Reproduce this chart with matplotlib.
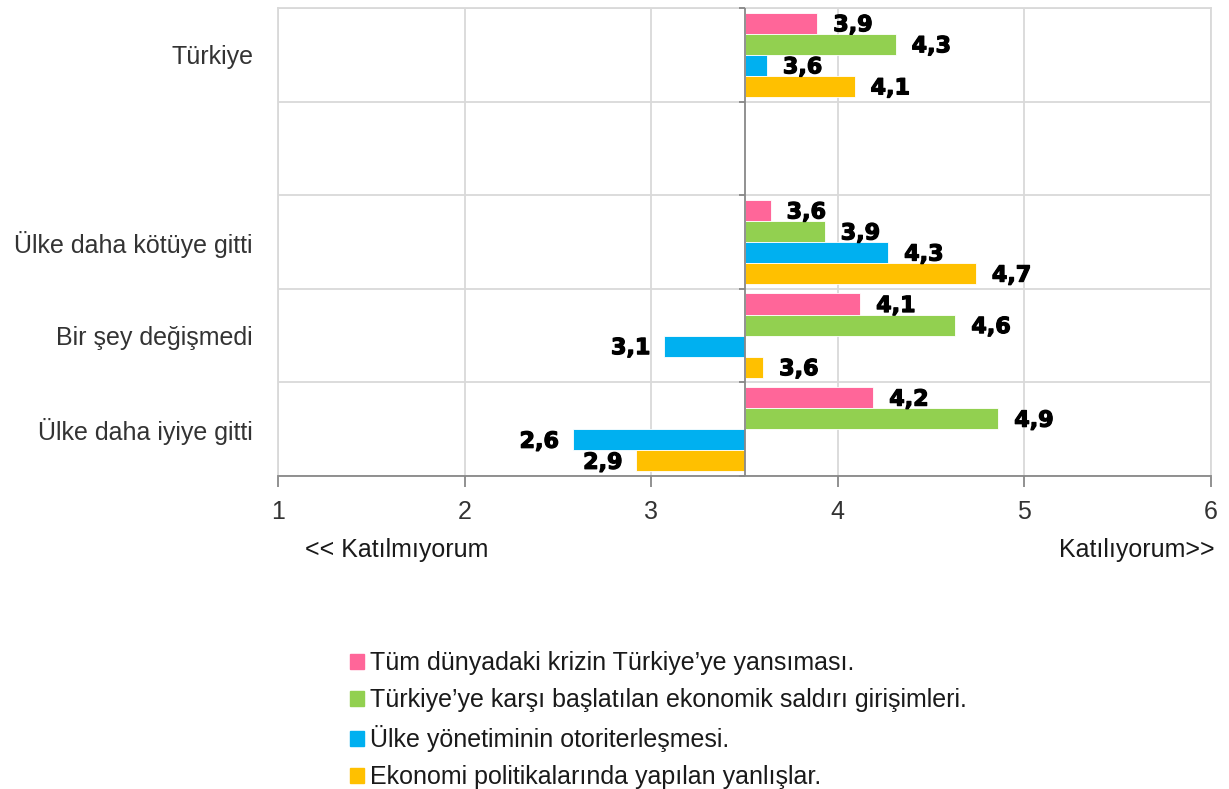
import matplotlib.pyplot as plt
import matplotlib.patches as mpatches
import matplotlib.patheffects as pe
import numpy as np

plt.rcParams['font.family'] = ['Liberation Sans', 'DejaVu Sans']

# rows bottom -> top, the empty slot separates the overall figure from the groups
categories = ['Ülke daha iyiye gitti', 'Bir şey değişmedi', 'Ülke daha kötüye gitti', '', 'Türkiye']
series_names = [
    'Tüm dünyadaki krizin Türkiye\u2019ye yansıması.',
    'Türkiye\u2019ye karşı başlatılan ekonomik saldırı girişimleri.',
    'Ülke yönetiminin otoriterleşmesi.',
    'Ekonomi politikalarında yapılan yanlışlar.',
]
colors = ['#FF6699', '#92D050', '#00B0F0', '#FFC000']

# mean scores, nan where the row is empty
kriz = [4.19, 4.12, 3.64, np.nan, 3.89]
saldiri = [4.86, 4.63, 3.93, np.nan, 4.31]
otoriter = [2.58, 3.07, 4.27, np.nan, 3.62]
politika = [2.92, 3.60, 4.74, np.nan, 4.09]
values = [kriz, saldiri, otoriter, politika]

base = 3.5
xticks = [1, 2, 3, 4, 5, 6]

fig = plt.figure(figsize=(12.29, 7.89), dpi=100)
ax = fig.add_axes([278/1229, 1 - 476/789, (1211-278)/1229, (476-8)/789])

y = np.arange(len(categories))
h = 0.9 / 4
offsets = [1.5*h, 0.5*h, -0.5*h, -1.5*h]
heavy = [pe.withStroke(linewidth=0.9, foreground='black')]
for vals, off, c in zip(values, offsets, colors):
    vals = np.array(vals)
    mask = ~np.isnan(vals)
    ax.barh(y[mask] + off, vals[mask] - base, left=base, height=h,
            color=c, edgecolor='white', linewidth=0.6, zorder=3)
    for yy, v in zip(y[mask] + off, vals[mask]):
        txt = f'{v:.1f}'.replace('.', ',')
        if v >= base:
            xt, ha = (16, -2), 'left'
        else:
            xt, ha = (-14, -2), 'right'
        ax.annotate(txt, (v, yy), xytext=xt, textcoords='offset pixels',
                    ha=ha, va='center', fontsize=16, fontweight='bold',
                    family='DejaVu Sans', zorder=4, path_effects=heavy)

ax.set_xlim(1, 6)
ax.set_ylim(-0.5, len(categories) - 0.5)
ax.set_xticks(xticks)
ax.set_xticklabels([str(t) for t in xticks], fontsize=18, color='#333333')
ax.tick_params(axis='x', direction='out', length=8, color='#888888', width=1.3, pad=9)

bounds = np.arange(-0.5, len(categories), 1.0)
ax.set_yticks(bounds)
ax.set_yticklabels([''] * len(bounds))
ax.set_yticks(y, minor=True)
ax.set_yticklabels(categories, minor=True, fontsize=18, color='#333333')
ax.tick_params(axis='y', which='both', length=0)
ax.tick_params(axis='y', which='minor', pad=18)

ax.grid(True, which='major', color='#D9D9D9', linewidth=1.3, zorder=0)
for side in ['top', 'right', 'left']:
    ax.spines[side].set_color('#D9D9D9')
    ax.spines[side].set_linewidth(1.3)
ax.spines['bottom'].set_color('#888888')
ax.spines['bottom'].set_linewidth(1.3)

# category axis crossing at the scale midpoint, with its tick marks
ax.axvline(base, color='#888888', linewidth=1.3, zorder=5)
ax.hlines(bounds, base - 0.032, base, color='#888888', linewidth=1.3, zorder=5, clip_on=False)

fig.text(305/1229, 1 - 550/789, '<< Katılmıyorum', fontsize=18, va='center', ha='left', color='#1a1a1a')
fig.text(1215/1229, 1 - 550/789, 'Katılıyorum>>', fontsize=18, va='center', ha='right', color='#1a1a1a')

handles = [mpatches.Patch(color=c) for c in colors]
fig.legend(handles, series_names, loc='upper left', bbox_to_anchor=(350/1229, 1 - 651/789),
           frameon=False, fontsize=18, handlelength=0.56, handleheight=0.56,
           handletextpad=0.25, labelspacing=0.52, borderpad=0, borderaxespad=0,
           labelcolor='#1a1a1a')

fig.savefig('out.png', dpi=100)
